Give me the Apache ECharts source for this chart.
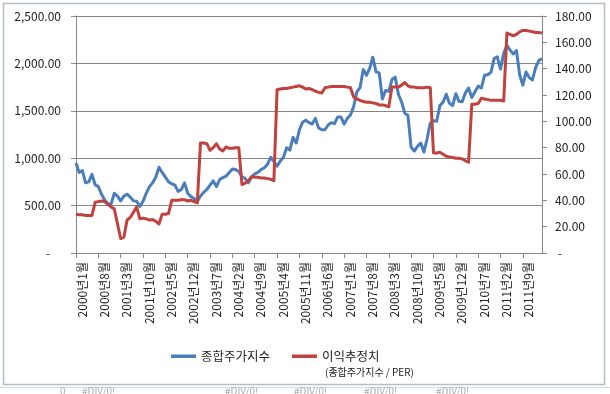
<!DOCTYPE html>
<html><head><meta charset="utf-8">
<script src="https://cdn.jsdelivr.net/npm/echarts@6/dist/echarts.min.js"></script>
<style>html,body{margin:0;padding:0;background:#fff}#c{width:610px;height:394px}</style>
</head><body><div id="c"></div>
<script>
// Categories: monthly, 2000년1월 .. 2012년3월
const startYear = 2000, monthCount = 147;
const categories = [];
for (let i = 0; i < monthCount; i++) {
  const y = startYear + Math.floor(i / 12), m = (i % 12) + 1;
  categories.push(y + '년' + m + '월');
}
const seriesNames = ['종합주가지수', '이익추정치'];
// 종합주가지수 (left axis)
const kospi = [
  950, 850, 870, 740, 750, 830, 720, 700, 620, 560, 520, 515,
  630, 600, 550, 600, 620, 590, 550, 545, 490, 545, 630, 700,
  740, 800, 905, 850, 800, 750, 730, 715, 650, 670, 740, 630,
  595, 575, 540, 600, 640, 670, 715, 760, 700, 775, 795, 810,
  850, 885, 880, 860, 805, 785, 740, 800, 835, 850, 880, 900,
  935, 1010, 965, 915, 970, 1010, 1110, 1085, 1220, 1160, 1300, 1380,
  1400, 1375, 1360, 1420, 1320, 1300, 1300, 1350, 1375, 1365, 1435, 1435,
  1360, 1420, 1455, 1545, 1700, 1745, 1935, 1875, 1945, 2065, 1910, 1900,
  1625, 1715, 1705, 1830, 1855, 1675, 1595, 1475, 1450, 1115, 1075, 1125,
  1160, 1065, 1205, 1370, 1395, 1390, 1555, 1590, 1675, 1580, 1555, 1680,
  1600, 1595, 1690, 1740, 1640, 1700, 1760, 1740, 1875, 1880, 1905, 2050,
  2070, 1940, 2105, 2190, 2140, 2100, 2135, 1880, 1770, 1910, 1850, 1825,
  1955, 2030, 2050
];
// 이익추정치 (종합주가지수 / PER), right axis
const earnings = [
  29.5, 29, 29, 28.5, 28.5, 28.5, 38.5, 39, 39.5, 39, 37, 35,
  33.5, 22, 11, 12, 25, 27, 31, 35, 26, 26.5, 26, 25,
  25.5, 24, 22, 29.5, 29.5, 30, 40, 40, 40, 40.5, 40.5, 39.5,
  40, 39, 38, 83.5, 83.5, 83, 78, 80, 83, 79, 77.5, 80.5,
  79.5, 79.5, 80, 80, 52, 53, 55, 58, 57.5, 57.5, 57, 57,
  56.5, 56, 55, 124, 124.5, 125, 125, 125.5, 126, 126.5, 127, 126,
  124.5, 125, 124, 123, 122, 121.5, 125.5, 126, 126.5, 126.5, 126.5, 126.5,
  126.5, 126, 125.5, 118.5, 117, 116, 115, 114.5, 114.5, 114, 113.5, 112.5,
  112.5, 112, 111, 126, 126, 126, 127.5, 129.5, 127, 126, 126, 125.5,
  125.5, 125.5, 126, 125.5, 76, 76, 76.5, 75, 73.5, 73, 72.5, 72,
  72, 71.5, 70, 69, 113, 113, 113.5, 117.5, 117, 116.5, 116, 116,
  116, 116, 115.5, 167, 166, 165, 166, 168, 169, 169, 168.5, 168,
  167.5, 167.5, 167
];
const leftTicks = {min: 0, max: 2500, interval: 500};
const rightTicks = {min: 0, max: 180, interval: 20};
const subtitle = '(종합주가지수 / PER)';
const cellTexts = ['0', '#DIV/0!', '#DIV/0!', '#DIV/0!', '#DIV/0!', '#DIV/0!'];

const FONT = "'Noto Sans CJK KR', 'Noto Sans', sans-serif";
const GRID = '#868686';
const chart = echarts.init(document.getElementById('c'), null, {renderer: 'canvas'});
const cellX = [60, 82, 225, 294, 364, 436];
chart.setOption({
  animation: false,
  backgroundColor: '#fff',
  grid: {left: 76, right: 68, top: 16, bottom: 141, containLabel: false},
  legend: {
    data: seriesNames, left: 166, top: 345, icon: 'rect',
    itemWidth: 25, itemHeight: 3.5, itemGap: 22,
    textStyle: {fontFamily: FONT, fontSize: 12.5, color: '#222'}
  },
  xAxis: {
    type: 'category', data: categories, boundaryGap: false,
    axisLine: {lineStyle: {color: GRID, width: 1}},
    axisTick: {interval: 6, length: 5, lineStyle: {color: GRID}},
    axisLabel: {interval: 6, rotate: 90, margin: 9, fontSize: 12, color: '#222',
      fontFamily: FONT, verticalAlign: 'top'},
    splitLine: {show: false}
  },
  yAxis: [
    {type: 'value', min: leftTicks.min, max: leftTicks.max, interval: leftTicks.interval,
     axisLine: {show: true, lineStyle: {color: GRID}},
     axisTick: {show: true, length: 5, lineStyle: {color: GRID}},
     splitLine: {lineStyle: {color: GRID, width: 1}},
     axisLabel: {margin: 15, fontSize: 12, color: '#222', fontFamily: FONT,
       formatter: v => v === 0 ? '-    ' : v.toLocaleString('en-US', {minimumFractionDigits: 2, maximumFractionDigits: 2})}},
    {type: 'value', min: rightTicks.min, max: rightTicks.max, interval: rightTicks.interval,
     axisLine: {show: true, lineStyle: {color: GRID}},
     axisTick: {show: true, length: 5, lineStyle: {color: GRID}},
     splitLine: {show: false},
     axisLabel: {margin: 13, fontSize: 12, color: '#222', fontFamily: FONT,
       formatter: v => v === 0 ? ' -' : v.toFixed(2)}}
  ],
  series: [
    {name: seriesNames[0], type: 'line', data: kospi, yAxisIndex: 0, symbol: 'none',
     lineStyle: {color: '#4a7ebb', width: 3, join: 'round'}, itemStyle: {color: '#4a7ebb'}},
    {name: seriesNames[1], type: 'line', data: earnings, yAxisIndex: 1, symbol: 'none',
     lineStyle: {color: '#c0413d', width: 3, join: 'round'}, itemStyle: {color: '#c0413d'}}
  ],
  graphic: [
    {type: 'rect', shape: {x: 3.5, y: 3.5, width: 601, height: 381}, silent: true,
     style: {fill: 'none', stroke: '#b4bec6', lineWidth: 1.5}, z: -1},
    {type: 'text', left: 325, top: 367, silent: true,
     style: {text: subtitle, fontFamily: FONT, fontSize: 10, fill: '#222'}},
    {type: 'line', shape: {x1: 0, y1: 387.5, x2: 610, y2: 387.5}, silent: true,
     style: {stroke: '#d8dde2', lineWidth: 1}},
  ].concat(cellTexts.map((t, i) => ({type: 'text', left: cellX[i], top: 386, silent: true,
     style: {text: t, fontFamily: FONT, fontSize: 10, fill: '#aaa'}})))
});
</script></body></html>
